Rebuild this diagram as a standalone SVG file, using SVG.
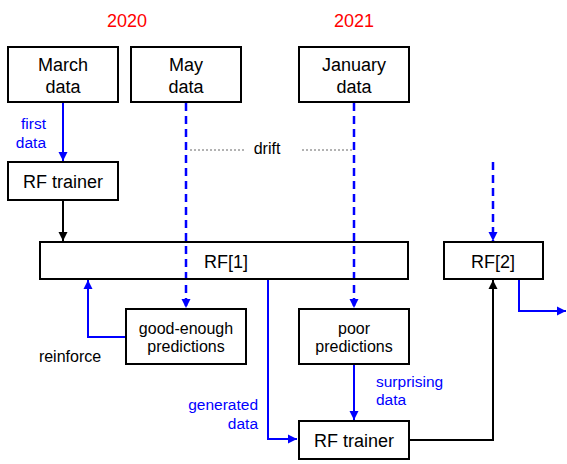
<svg xmlns="http://www.w3.org/2000/svg" width="567" height="464" viewBox="0 0 567 464">
<style>
.box{fill:#fff;stroke:#000;stroke-width:2}
.t{font-family:"Liberation Sans",Arial,sans-serif;font-size:18px;fill:#000;text-anchor:middle}
.s{font-family:"Liberation Sans",Arial,sans-serif;font-size:16px;fill:#000;text-anchor:middle}
.lb{font-family:"Liberation Sans",Arial,sans-serif;font-size:15.5px;fill:#0000ff}
.yr{font-family:"Liberation Sans",Arial,sans-serif;font-size:18px;fill:#ff0000;text-anchor:middle}
.blue{fill:none;stroke:#0000ff;stroke-width:2}
.dash{fill:none;stroke:#0000ff;stroke-width:2.5;stroke-dasharray:8 5}
.blk{fill:none;stroke:#000;stroke-width:2}
.dot{fill:none;stroke:#666;stroke-width:1;stroke-dasharray:2 2}
</style>
<defs>
<marker id="ab" markerUnits="userSpaceOnUse" markerWidth="10" markerHeight="10" refX="9" refY="5" orient="auto"><path d="M0,0.5 L9,5 L0,9.5 Z" fill="#0000ff"/></marker>
<marker id="ak" markerUnits="userSpaceOnUse" markerWidth="10" markerHeight="10" refX="9" refY="5" orient="auto"><path d="M0,0.5 L9,5 L0,9.5 Z" fill="#000"/></marker>
</defs>
<text class="yr" x="127" y="27">2020</text>
<text class="yr" x="354" y="27">2021</text>
<g id="connectors">
<line class="blue" x1="63" y1="102" x2="63" y2="161" marker-end="url(#ab)"/>
<line class="blk" x1="63" y1="200" x2="63" y2="241" marker-end="url(#ak)"/>
<line class="dash" x1="186" y1="103" x2="186" y2="308" marker-end="url(#ab)"/>
<line class="dash" x1="354" y1="103" x2="354" y2="308" marker-end="url(#ab)"/>
<line class="dash" x1="493" y1="162" x2="493" y2="241" marker-end="url(#ab)"/>
<line class="dot" x1="190" y1="150" x2="245" y2="150"/>
<line class="dot" x1="302" y1="150" x2="354" y2="150"/>
<polyline class="blue" points="126,337 88,337 88,280" marker-end="url(#ab)"/>
<polyline class="blue" points="268,279 268,439 297,439" marker-end="url(#ab)"/>
<line class="blue" x1="354" y1="364" x2="354" y2="420" marker-end="url(#ab)"/>
<polyline class="blk" points="409,440 493,440 493,280" marker-end="url(#ak)"/>
<polyline class="blue" points="519,279 519,311 566,311" marker-end="url(#ab)"/>
<text class="s" x="267" y="154">drift</text>
<text class="lb" x="46" y="129" text-anchor="end">first</text>
<text class="lb" x="46" y="148" text-anchor="end">data</text>
<text class="s" x="70" y="362">reinforce</text>
<text class="lb" x="258" y="410" text-anchor="end">generated</text>
<text class="lb" x="258" y="429" text-anchor="end">data</text>
<text class="lb" x="376" y="387">surprising</text>
<text class="lb" x="376" y="405">data</text>
</g>
<g id="march"><rect class="box" x="8" y="47" width="110" height="55"/><text class="t" x="63" y="71">March</text><text class="t" x="63" y="93">data</text></g>
<g id="may"><rect class="box" x="131" y="47" width="110" height="55"/><text class="t" x="186" y="71">May</text><text class="t" x="186" y="93">data</text></g>
<g id="january"><rect class="box" x="299" y="47" width="110" height="55"/><text class="t" x="354" y="71">January</text><text class="t" x="354" y="93">data</text></g>
<g id="trainer1"><rect class="box" x="8" y="162" width="110" height="38"/><text class="t" x="63" y="188">RF trainer</text></g>
<g id="rf1"><rect class="box" x="40" y="242" width="368" height="37" fill-opacity="0"/><text class="t" x="226" y="268">RF[1]</text></g>
<g id="rf2"><rect class="box" x="444" y="242" width="99" height="37"/><text class="t" x="493" y="268">RF[2]</text></g>
<g id="good"><rect class="box" x="126" y="309" width="120" height="55"/><text class="s" x="186" y="334">good-enough</text><text class="s" x="186" y="352">predictions</text></g>
<g id="poor"><rect class="box" x="299" y="309" width="110" height="55"/><text class="s" x="354" y="334">poor</text><text class="s" x="354" y="352">predictions</text></g>
<g id="trainer2"><rect class="box" x="299" y="421" width="110" height="38"/><text class="t" x="354" y="447">RF trainer</text></g>
</svg>
